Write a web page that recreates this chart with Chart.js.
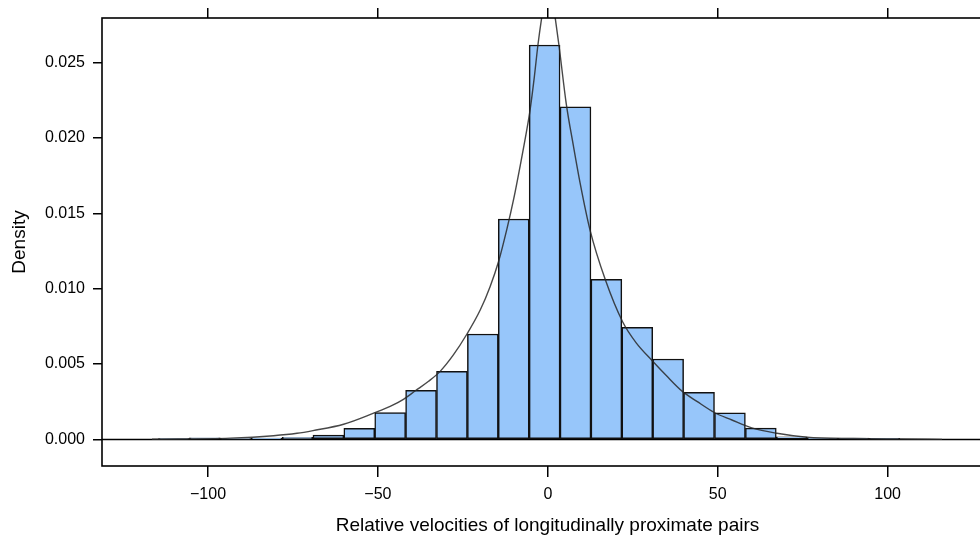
<!DOCTYPE html>
<html>
<head>
<meta charset="utf-8">
<script src="https://cdn.jsdelivr.net/npm/chart.js@4.4.1/dist/chart.umd.min.js"></script>
<style>
  html, body { margin: 0; padding: 0; background: #fff; overflow: hidden; }
  #wrap { width: 1000px; height: 537px; }
</style>
</head>
<body>
<div id="wrap"><canvas id="hist" width="1000" height="537"></canvas></div>
<script>
// histogram bins (centres, width 9.09) and densities
const binMids = [-110.03, -100.94, -91.85, -82.76, -73.67, -64.58, -55.49, -46.40,
  -37.31, -28.22, -19.13, -10.04, -0.95, 8.14, 17.23, 26.32, 35.41, 44.50,
  53.59, 62.68, 71.77, 80.86, 89.95, 99.04];
const density = [0.00002, 0.00010, 0.00002, 0.00008, 0.00014, 0.00029, 0.00073, 0.00177,
  0.00325, 0.00451, 0.00699, 0.01462, 0.02617, 0.02207, 0.01062, 0.00743, 0.00533, 0.00312,
  0.00176, 0.00074, 0.00017, 0.00008, 0.00008, 0.00006];

// fitted density curve
const curveX = [-116.5, -93.4, -80.7, -73.8, -69.1, -60.1, -51.1, -46.4, -42.5, -39.0,
  -35.1, -31.7, -27.8, -23.8, -19.9, -17.0, -14.5, -12.0, -10.0, -8.1, -6.3, -5.2, -4.0,
  -2.9, -1.8, 0.2, 2.15, 3.3, 5.4, 7.5, 9.5, 12.4, 16.9, 22.0, 26.0, 30.8, 35.0,
  39.5, 44.0, 49.0, 54.0, 60.0, 67.4, 76.2, 90.0, 103.6, 116.0];
const curveY = [0.00001, 0.00008, 0.00024, 0.00040, 0.00058, 0.00100, 0.00175, 0.00218, 0.00265, 0.00322,
  0.00385, 0.00451, 0.00560, 0.00699, 0.00858, 0.01013, 0.01180, 0.01400, 0.01600, 0.01820, 0.02040, 0.02190, 0.02400,
  0.02620, 0.02800, 0.03080, 0.02800, 0.02610, 0.02230, 0.01950, 0.01700, 0.01390, 0.01060, 0.00780, 0.00640, 0.00520, 0.00420,
  0.00320, 0.00250, 0.00178, 0.00130, 0.00076, 0.00040, 0.00014, 0.00005, 0.00002, 0.00000];

const xTicks = [-100, -50, 0, 50, 100];
const yTicks = [0, 0.005, 0.010, 0.015, 0.020, 0.025];

const FONT = "'Liberation Sans', Arial, Helvetica, sans-serif";
const xMin = -131.2, xMax = 131.0;
const yMin = -0.00177, yMax = 0.02796;

// box round the panel + the zero line
const frame = {
  id: 'frame',
  beforeDatasetsDraw(chart) {
    const { ctx, chartArea: a, scales } = chart;
    const y0 = Math.round(scales.y.getPixelForValue(0)) + 0.5;
    ctx.save();
    ctx.strokeStyle = '#000';
    ctx.lineWidth = 1.4;
    ctx.beginPath();
    ctx.moveTo(a.left, y0);
    ctx.lineTo(a.right, y0);
    ctx.stroke();
    ctx.restore();
  },
  afterDraw(chart) {
    const { ctx, chartArea: a } = chart;
    ctx.save();
    ctx.strokeStyle = '#000';
    ctx.lineWidth = 1.6;
    ctx.strokeRect(a.left, a.top, a.right - a.left, a.bottom - a.top);
    ctx.restore();
  }
};

const tickMarks = (len) => ({
  display: true,
  drawOnChartArea: false,
  drawTicks: true,
  tickLength: len,
  color: '#000',
  lineWidth: 1.5,
  offset: false
});

new Chart(document.getElementById('hist'), {
  type: 'bar',
  data: {
    datasets: [
      {
        type: 'line',
        label: 'density',
        data: curveX.map((x, i) => ({ x: x, y: curveY[i] })),
        borderColor: 'rgba(40,40,40,0.85)',
        borderWidth: 1.4,
        pointRadius: 0,
        cubicInterpolationMode: 'monotone',
        fill: false,
        order: 0
      },
      {
        type: 'bar',
        label: 'hist',
        data: binMids.map((x, i) => ({ x: x, y: density[i] })),
        backgroundColor: '#97c6fa',
        borderColor: '#111',
        borderWidth: 1.5,
        borderSkipped: false,
        barPercentage: 1,
        categoryPercentage: 1,
        order: 1
      }
    ]
  },
  options: {
    responsive: false,
    animation: false,
    layout: { padding: { left: 0, right: 7, top: 0, bottom: 0 } },
    plugins: { legend: { display: false }, tooltip: { enabled: false } },
    scales: {
      x: {
        type: 'linear',
        position: 'bottom',
        min: xMin, max: xMax,
        offset: false,
        afterBuildTicks: s => { s.ticks = xTicks.map(v => ({ value: v })); },
        afterFit: s => { s.height = 71; },
        grid: tickMarks(11),
        border: { display: false },
        ticks: {
          color: '#000',
          padding: 8,
          maxRotation: 0,
          font: { family: FONT, size: 16 },
          callback: v => v < 0 ? '\u2212' + Math.abs(v) : String(v)
        },
        title: {
          display: true,
          text: 'Relative velocities of longitudinally proximate pairs',
          color: '#000',
          font: { family: FONT, size: 19 },
          padding: { top: 3, bottom: 0 }
        }
      },
      x2: {
        type: 'linear',
        position: 'top',
        min: xMin, max: xMax,
        offset: false,
        afterBuildTicks: s => { s.ticks = xTicks.map(v => ({ value: v })); },
        afterFit: s => { s.height = 18; },
        grid: tickMarks(10),
        border: { display: false },
        ticks: { display: false }
      },
      y: {
        type: 'linear',
        position: 'left',
        min: yMin, max: yMax,
        afterBuildTicks: s => { s.ticks = yTicks.map(v => ({ value: v })); },
        afterFit: s => { s.width = 102; },
        grid: tickMarks(9),
        border: { display: false },
        ticks: {
          color: '#000',
          padding: 8,
          font: { family: FONT, size: 16 },
          callback: v => v.toFixed(3)
        },
        title: {
          display: true,
          text: 'Density',
          color: '#000',
          font: { family: FONT, size: 19 },
          padding: { top: 8, bottom: 0 }
        }
      }
    }
  },
  plugins: [frame]
});
</script>
</body>
</html>
